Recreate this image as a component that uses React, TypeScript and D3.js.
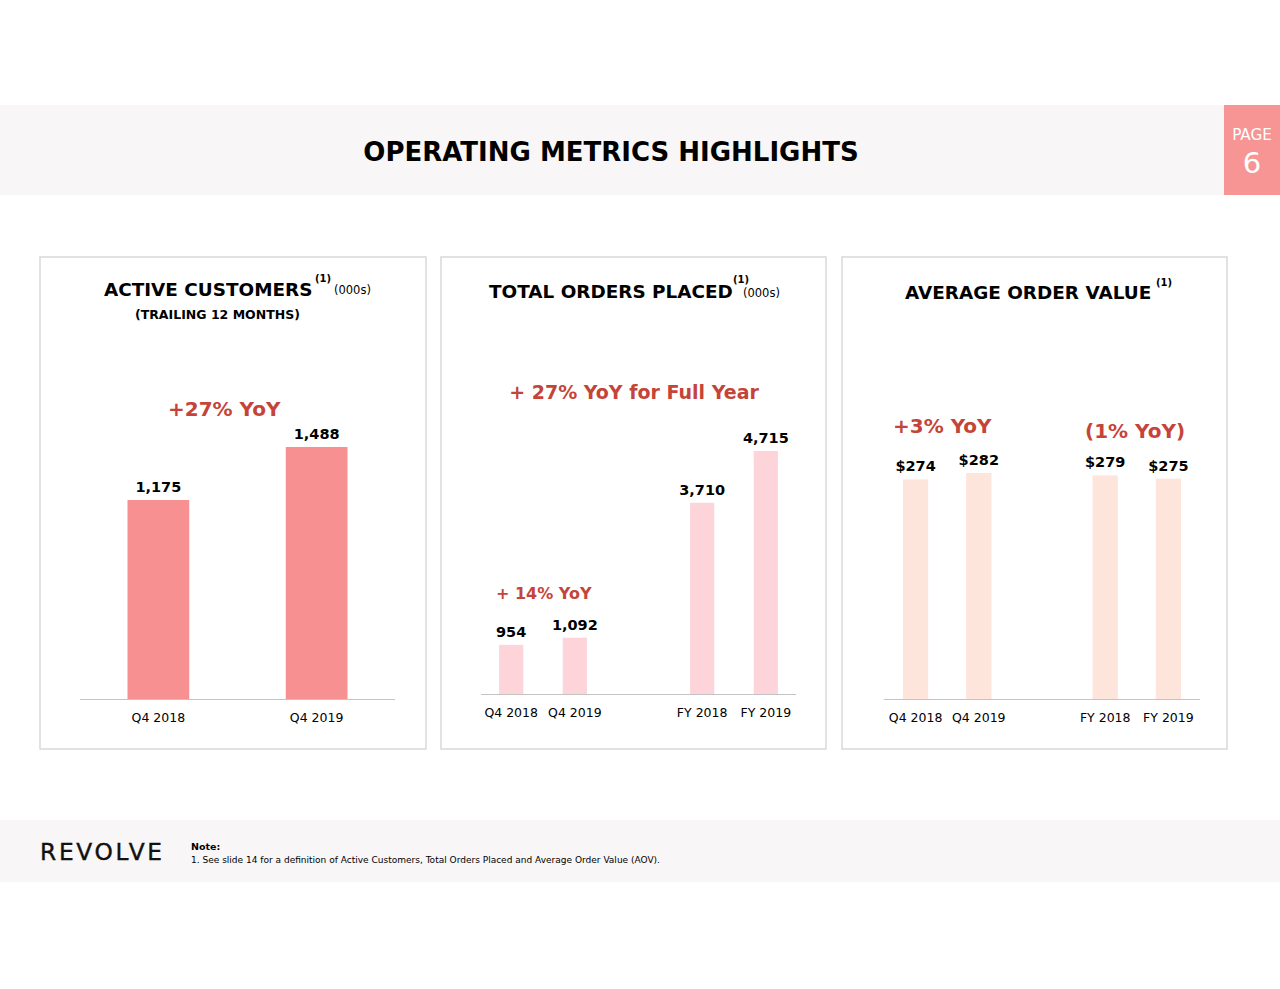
import * as d3 from "d3";

// ---- data ----
const customerPeriods = ["Q4 2018", "Q4 2019"];
const customerValues = [1175, 1488];

const orderPeriods = ["Q4 2018", "Q4 2019", "FY 2018", "FY 2019"];
const orderValues = [954, 1092, 3710, 4715];

const aovPeriods = ["Q4 2018", "Q4 2019", "FY 2018", "FY 2019"];
const aovValues = [274, 282, 279, 275];

const FONT = "Verdana, 'DejaVu Sans', sans-serif";
const RED = "#c5443a";
const GAP = "__gap__";

// put an empty slot between the quarterly pair and the full-year pair
const withGap = (p: string[]) => [p[0], p[1], GAP, p[2], p[3]];

type Panel = {
  box: [number, number, number, number];
  periods: string[];
  slots: string[];
  values: number[];
  fmt: (v: number) => string;
  color: string;
  xRange: [number, number];
  baseY: number;
  yTop: number; // pixel for max value
  padInner: number;
  padOuter: number;
};

const panels: Panel[] = [
  {
    box: [40, 257, 386, 492],
    periods: customerPeriods,
    slots: customerPeriods,
    values: customerValues,
    fmt: d3.format(","),
    color: "#f79191",
    xRange: [80, 395],
    baseY: 699,
    yTop: 447,
    padInner: 0.61,
    padOuter: 0.3,
  },
  {
    box: [441, 257, 385, 492],
    periods: orderPeriods,
    slots: withGap(orderPeriods),
    values: orderValues,
    fmt: d3.format(","),
    color: "#fcd4d9",
    xRange: [481, 796],
    baseY: 694,
    yTop: 451,
    padInner: 0.62,
    padOuter: 0.284,
  },
  {
    box: [842, 257, 385, 492],
    periods: aovPeriods,
    slots: withGap(aovPeriods),
    values: aovValues,
    fmt: (v) => `$${v}`,
    color: "#fde5dc",
    xRange: [884, 1200],
    baseY: 699,
    yTop: 473,
    padInner: 0.6,
    padOuter: 0.3,
  },
];

function BarPanel({ p }: { p: Panel }) {
  const x = d3
    .scaleBand<string>()
    .domain(p.slots)
    .range(p.xRange)
    .paddingInner(p.padInner)
    .paddingOuter(p.padOuter);
  const y = d3
    .scaleLinear()
    .domain([0, d3.max(p.values) as number])
    .range([p.baseY, p.yTop]);
  const [bx, by, bw, bh] = p.box;
  return (
    <g>
      <rect x={bx} y={by} width={bw} height={bh} fill="#fff" stroke="#d9d9d9" strokeWidth={1.5} />
      <line x1={p.xRange[0]} x2={p.xRange[1]} y1={p.baseY + 0.5} y2={p.baseY + 0.5} stroke="#c4c4c4" strokeWidth={1} />
      {p.periods.map((k, i) => {
        const cx = (x(k) as number) + x.bandwidth() / 2;
        return (
          <g key={k}>
            <rect
              x={x(k)}
              y={y(p.values[i])}
              width={x.bandwidth()}
              height={p.baseY - y(p.values[i])}
              fill={p.color}
            />
            <text
              x={cx}
              y={y(p.values[i]) - 8}
              textAnchor="middle"
              fontFamily={FONT}
              fontWeight="bold"
              fontSize={14.5}
              fill="#000"
            >
              {p.fmt(p.values[i])}
            </text>
            <text x={cx} y={p.baseY + 23} textAnchor="middle" fontFamily={FONT} fontSize={12.5} fill="#000">
              {k}
            </text>
          </g>
        );
      })}
    </g>
  );
}

export default function App() {
  return (
    <div>
      <style>{`body{margin:0;background:#fff}`}</style>
      <svg width={1280} height={989} style={{ display: "block" }}>
        <rect width={1280} height={989} fill="#fff" />

        {/* header band */}
        <rect x={0} y={105} width={1224} height={90} fill="#f8f6f6" />
        <rect x={1224} y={105} width={56} height={90} fill="#f79595" />
        <text x={1252} y={140} textAnchor="middle" fontFamily={FONT} fontSize={15.2} fill="#fff">
          PAGE
        </text>
        <text x={1252} y={173} textAnchor="middle" fontFamily={FONT} fontSize={29} fill="#fff">
          6
        </text>
        <text x={611} y={161} textAnchor="middle" fontFamily={FONT} fontWeight="bold" fontSize={26} fill="#000">
          OPERATING METRICS HIGHLIGHTS
        </text>

        {panels.map((p, i) => (
          <BarPanel key={i} p={p} />
        ))}

        {/* panel titles */}
        <g fontFamily={FONT} fill="#000">
          <text x={104} y={296} fontWeight="bold" fontSize={18.4}>ACTIVE CUSTOMERS</text>
          <text x={315} y={282} fontWeight="bold" fontSize={10}>(1)</text>
          <text x={334} y={294} fontSize={11.5}>(000s)</text>
          <text x={135} y={319} fontWeight="bold" fontSize={12.5}>(TRAILING 12 MONTHS)</text>

          <text x={733} y={283} fontWeight="bold" fontSize={10}>(1)</text>
          <text x={489} y={298} fontWeight="bold" fontSize={18.4}>TOTAL ORDERS PLACED</text>
          <text x={743} y={297} fontSize={11.5}>(000s)</text>

          <text x={905} y={299} fontWeight="bold" fontSize={18.4}>AVERAGE ORDER VALUE</text>
          <text x={1156} y={286} fontWeight="bold" fontSize={10}>(1)</text>
        </g>

        {/* growth callouts */}
        <g fontFamily={FONT} fontWeight="bold" fill={RED}>
          <text x={168} y={416} fontSize={20}>+27% YoY</text>
          <text x={634} y={399} fontSize={19} textAnchor="middle">+ 27% YoY for Full Year</text>
          <text x={496} y={599} fontSize={16}>+ 14% YoY</text>
          <text x={893} y={433} fontSize={20}>+3% YoY</text>
          <text x={1085} y={438} fontSize={20}>(1% YoY)</text>
        </g>

        {/* footer */}
        <rect x={0} y={820} width={1280} height={62} fill="#f8f6f6" />
        <text x={40} y={860} fontFamily={FONT} fontSize={23.3} letterSpacing={2.7} fill="#111" stroke="#111" strokeWidth={0.4}>
          REVOLVE
        </text>
        <text x={191} y={850} fontFamily={FONT} fontWeight="bold" fontSize={9.5} fill="#000">
          Note:
        </text>
        <text
          x={191}
          y={863}
          fontFamily={FONT}
          fontSize={9.5}
          fill="#000"
          textLength={469}
          lengthAdjust="spacingAndGlyphs"
        >
          1. See slide 14 for a definition of Active Customers, Total Orders Placed and Average Order Value (AOV).
        </text>
      </svg>
    </div>
  );
}
